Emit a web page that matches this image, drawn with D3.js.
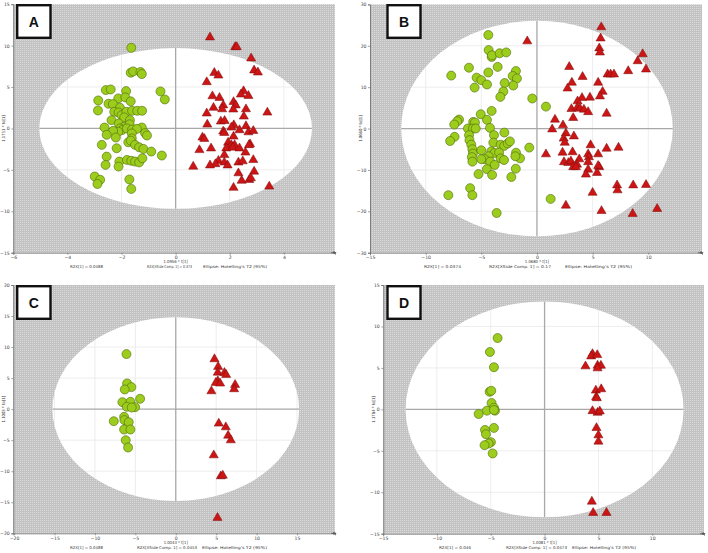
<!DOCTYPE html>
<html><head><meta charset="utf-8">
<script src="https://cdn.jsdelivr.net/npm/d3@7/dist/d3.min.js"></script>
<style>body{margin:0;background:#fff} svg{display:block}</style>
</head><body>
<svg id="c" width="708" height="553"></svg>
<script>
// ---------- DATA ----------
const aGreen = [[-1.64,9.74],[-1.66,6.73],[-1.57,6.89],[-1.30,6.81],[-1.25,6.57],[-2.58,4.63],[-2.40,4.71],[-1.83,4.51],[-0.56,4.47],[-0.40,3.50],[-2.86,3.38],[-2.12,3.63],[-1.86,3.75],[-1.66,3.27],[-2.48,2.98],[-2.32,2.94],[-2.87,2.17],[-2.06,2.50],[-2.27,2.01],[-2.11,1.93],[-2.00,1.61],[-1.82,2.01],[-1.61,2.13],[-1.42,2.13],[-1.24,2.13],[-2.37,1.00],[-1.90,1.33],[-1.69,1.00],[-2.10,0.60],[-1.90,0.20],[-1.70,0.50],[-2.05,0.00],[-1.98,-0.20],[-2.12,-0.40],[-1.80,0.00],[-2.63,0.11],[-2.31,-0.29],[-1.61,-0.13],[-1.25,0.11],[-1.43,-0.05],[-2.55,-0.77],[-2.21,-1.09],[-1.62,-0.60],[-1.62,-1.20],[-1.13,-0.56],[-1.06,-0.85],[-2.73,-1.98],[-2.18,-2.39],[-1.75,-1.67],[-1.66,-1.47],[-1.50,-1.98],[-1.35,-2.27],[-1.19,-2.47],[-0.90,-2.79],[-0.51,-3.27],[-2.55,-3.40],[-2.59,-4.40],[-2.08,-4.00],[-2.11,-4.60],[-1.80,-3.80],[-1.64,-3.90],[-1.50,-4.00],[-1.35,-4.10],[-1.23,-3.60],[-2.99,-5.80],[-2.79,-6.20],[-2.89,-6.70],[-1.71,-6.16],[-1.64,-7.30]];
const aRed = [[1.27,11.0],[2.20,9.83],[2.26,9.83],[2.79,8.46],[2.90,7.01],[3.04,6.77],[1.43,6.72],[1.58,6.40],[1.15,5.60],[2.51,4.51],[2.41,4.11],[2.69,3.94],[1.36,3.90],[1.62,3.70],[2.14,3.20],[1.76,2.80],[2.22,2.80],[1.40,2.50],[1.72,2.33],[2.13,2.30],[2.60,2.33],[3.39,1.93],[1.15,1.82],[2.52,1.45],[1.17,0.48],[1.67,0.85],[1.81,0.92],[2.15,0.40],[2.06,0.12],[2.60,0.28],[1.76,-0.36],[1.80,-0.53],[2.69,-0.45],[2.87,-0.29],[2.36,-0.20],[2.14,-0.97],[0.99,-1.09],[1.06,-1.25],[1.94,-1.70],[2.06,-2.00],[2.18,-2.00],[1.87,-2.40],[2.11,-2.30],[2.75,-1.90],[2.71,-2.00],[2.36,-2.40],[1.31,-2.40],[0.88,-2.60],[2.58,-2.90],[1.80,-3.20],[1.58,-3.90],[1.47,-4.30],[1.80,-4.10],[1.92,-4.45],[2.32,-4.10],[2.48,-3.95],[2.87,-3.80],[1.27,-4.45],[0.65,-4.60],[2.32,-5.40],[2.90,-5.20],[2.44,-6.30],[2.72,-6.20],[2.78,-6.00],[2.14,-7.15],[3.46,-7.00]];

const bGreen = [[-4.37,22.6],[-4.34,18.96],[-4.07,17.3],[-4.04,17.7],[-3.35,18.2],[-2.76,18.4],[-6.11,14.7],[-4.37,13.55],[-3.53,14.9],[-1.89,13.9],[-2.18,12.7],[-1.80,12.1],[-2.13,10.4],[-7.70,12.8],[-5.42,12.3],[-5.00,11.7],[-4.49,10.65],[-5.60,9.9],[-2.90,11.0],[-3.02,8.95],[-3.29,7.65],[-0.42,7.26],[0.81,5.3],[-5.05,3.46],[-4.07,4.26],[-7.00,2.17],[-7.16,1.77],[-7.43,0.97],[-4.49,2.1],[-5.73,1.6],[-5.57,1.45],[-6.20,0.0],[-5.75,0.0],[-5.50,0.0],[-4.22,0.16],[-7.40,-2.0],[-7.80,-3.0],[-6.10,-1.6],[-6.06,-2.8],[-5.90,-3.9],[-5.80,-5.0],[-3.86,-1.6],[-2.93,-0.97],[-3.92,-3.4],[-3.26,-3.9],[-2.94,-4.2],[-2.63,-3.6],[-2.43,-3.1],[-0.69,-4.6],[-5.75,-6.05],[-5.85,-6.9],[-5.00,-5.25],[-4.10,-5.5],[-3.80,-5.9],[-3.40,-5.8],[-4.34,-6.7],[-4.70,-7.4],[-5.00,-7.4],[-1.88,-5.85],[-1.52,-7.2],[-1.94,-6.7],[-3.26,-7.2],[-2.96,-7.6],[-5.80,-8.0],[-4.20,-8.0],[-3.80,-8.8],[-4.50,-9.8],[-1.90,-9.7],[-5.25,-11.0],[-4.03,-11.2],[-2.30,-11.7],[-6.00,-14.4],[-5.80,-16.1],[-7.96,-16.1],[1.23,-17.0],[-3.62,-20.4]];
const bRed = [[-0.87,21.1],[5.78,24.5],[5.72,21.8],[5.60,19.4],[5.66,18.4],[9.50,18.0],[9.05,16.3],[9.80,14.3],[2.90,14.9],[8.20,13.9],[6.35,13.1],[6.62,13.1],[6.92,13.1],[4.10,12.5],[3.14,11.1],[5.50,11.1],[2.75,9.7],[5.90,8.9],[5.66,7.8],[4.76,7.5],[4.05,7.4],[3.65,6.6],[3.10,4.75],[3.63,5.1],[3.87,4.84],[4.22,4.6],[4.60,4.0],[6.26,3.62],[3.26,2.57],[1.62,2.17],[2.34,0.8],[1.37,-0.17],[2.60,-1.14],[3.32,-1.87],[2.40,-2.4],[2.50,-3.4],[4.82,-4.0],[6.26,-4.84],[7.33,-4.6],[0.81,-6.2],[2.30,-5.8],[3.20,-5.7],[4.60,-6.2],[4.67,-6.9],[5.50,-6.2],[2.43,-8.1],[2.82,-8.3],[3.05,-7.9],[3.80,-7.4],[3.60,-8.7],[3.26,-9.3],[3.50,-9.3],[4.60,-8.1],[5.60,-9.3],[5.50,-9.0],[4.60,-9.9],[4.40,-11.1],[5.40,-10.7],[7.20,-13.7],[7.24,-14.9],[8.65,-13.7],[9.80,-13.6],[5.00,-15.5],[2.60,-18.6],[5.80,-19.9],[8.60,-20.6],[10.80,-19.4]];

const cGreen = [[-6.10,8.87],[-6.02,4.14],[-5.49,3.55],[-6.31,3.17],[-4.41,1.67],[-6.60,1.13],[-5.61,1.18],[-6.06,0.38],[-5.03,0.32],[-5.45,0.27],[-7.67,-1.94],[-6.39,-1.24],[-6.35,-1.77],[-5.82,-2.10],[-6.39,-3.28],[-5.61,-3.28],[-6.19,-5.00],[-5.90,-6.18]];
const cRed = [[4.79,8.06],[5.24,6.83],[5.20,5.90],[6.02,5.86],[6.23,5.54],[7.34,3.92],[7.22,3.23],[5.20,4.52],[4.95,4.25],[5.49,4.14],[4.41,2.90],[5.32,-2.31],[6.19,-2.90],[6.48,-4.25],[6.81,-5.00],[4.70,-7.42],[5.57,-10.8],[5.82,-10.7],[5.16,-17.5]];

const dGreen = [[-4.36,8.6],[-5.07,6.92],[-4.70,5.08],[-5.10,2.12],[-4.95,2.24],[-4.92,0.76],[-4.70,0.2],[-5.35,-0.16],[-4.60,-0.16],[-4.70,-0.08],[-6.12,-0.56],[-4.70,-2.24],[-5.53,-2.48],[-5.44,-3.0],[-4.98,-3.96],[-5.19,-4.12],[-5.57,-4.32],[-4.82,-5.32]];
const dRed = [[4.45,6.68],[4.33,6.4],[4.89,6.56],[3.80,5.2],[4.92,5.28],[5.23,5.28],[4.92,4.96],[4.76,2.28],[5.26,2.44],[4.79,1.48],[4.85,1.36],[4.45,-0.2],[4.92,-0.4],[5.13,-0.24],[4.82,-2.24],[5.00,-3.12],[5.00,-3.88],[4.39,-11.12],[4.51,-12.48],[5.75,-12.48]];

// Hotelling T2 ellipse semi-axes [x, y]
const ellA = [5.04, 9.7], ellB = [12.2, 26.05], ellC = [15.26, 14.8], ellD = [12.9, 13.02];

// tick labels
const xTicksA = [-6,-4,-2,0,2,4], yTicksA = [-15,-10,-5,0,5,10,15];
const xTicksB = [-15,-10,-5,0,5,10], yTicksB = [-30,-20,-10,0,10,20,30];
const xTicksC = [-20,-15,-10,-5,0,5,10,15], yTicksC = [-20,-15,-10,-5,0,5,10,15,20];
const xTicksD = [-15,-10,-5,0,5,10], yTicksD = [-15,-10,-5,0,5,10,15];

const xLabels = ["1.0956 * t[1]","1.0680 * t[1]","1.0043 * t[1]","1.0081 * t[1]"];
const yLabels = ["1.1751 * to[1]","1.0660 * to[1]","1.1003 * to[1]","1.1784 * to[1]"];
const footA = ["R2X[1] = 0.0488","R2X[XSide Comp. 1] = 0.373","Ellipse: Hotelling's T2 (95%)"];
const footB = ["R2X[1] = 0.0374","R2X[XSide Comp. 1] = 0.17","Ellipse: Hotelling's T2 (95%)"];
const footC = ["R2X[1] = 0.0488","R2X[XSide Comp. 1] = 0.0453","Ellipse: Hotelling's T2 (95%)"];
const footD = ["R2X[1] = 0.046","R2X[XSide Comp. 1] = 0.0473","Ellipse: Hotelling's T2 (95%)"];
const panelNames = ["A","B","C","D"];

// ---------- LAYOUT ----------
const layout = [
  {plot:[13.3,4.2,335,252.7], xDom:[-6,5.89], yDom:[-15,15], box:[16,4,35.7,35], foot:[[70,33],[147,45],[203,64]], footY:268.3},
  {plot:[370,4.4,702,252.7], xDom:[-15,14.83], yDom:[-30,30], box:[386.3,4,35.4,35], foot:[[424,37],[489,62],[565,67]], footY:268.3},
  {plot:[13.3,285,335,533.3], xDom:[-20.1,19.7], yDom:[-20,20], box:[16,285,35.7,35], foot:[[70,33],[137,60],[202,65]], footY:549.3},
  {plot:[383.3,285,704,533.7], xDom:[-14.97,14.8], yDom:[-15,15], box:[386.3,285,35.4,35], foot:[[439,32],[506,61],[572,64]], footY:549.3}
];
const datasets = [
  {g:aGreen,r:aRed,e:ellA,xt:xTicksA,yt:yTicksA,f:footA},
  {g:bGreen,r:bRed,e:ellB,xt:xTicksB,yt:yTicksB,f:footB},
  {g:cGreen,r:cRed,e:ellC,xt:xTicksC,yt:yTicksC,f:footC},
  {g:dGreen,r:dRed,e:ellD,xt:xTicksD,yt:yTicksD,f:footD}
];

const svg = d3.select("#c");
const defs = svg.append("defs");
const pat = defs.append("pattern").attr("id","dots").attr("width",2).attr("height",2).attr("patternUnits","userSpaceOnUse");
pat.append("rect").attr("width",2).attr("height",2).attr("fill","#c2c2c2");
pat.append("rect").attr("width",1).attr("height",1).attr("fill","#dcdcdc");
defs.append("marker").attr("id","arr").attr("viewBox","0 0 6 6").attr("refX",1).attr("refY",3)
  .attr("markerWidth",4).attr("markerHeight",4).attr("orient","auto")
  .append("path").attr("d","M0,0L6,3L0,6Z").attr("fill","#555");

const tri = d3.symbol().type(d3.symbolTriangle).size(36);
const smallFont = "DejaVu Sans Condensed, DejaVu Sans, sans-serif";

layout.forEach((L,i)=>{
  const D = datasets[i];
  const [x0,y0,x1,y1] = L.plot;
  const x = d3.scaleLinear().domain(L.xDom).range([x0,x1]);
  const y = d3.scaleLinear().domain(L.yDom).range([y1,y0]);
  const g = svg.append("g");
  g.append("rect").attr("x",x0).attr("y",y0).attr("width",x1-x0).attr("height",y1-y0).attr("fill","url(#dots)");
  const cx = x(0), cy = y(0), rx = x(D.e[0])-x(0), ry = y(0)-y(D.e[1]);
  g.append("ellipse").attr("cx",cx).attr("cy",cy).attr("rx",rx).attr("ry",ry).attr("fill","#fff");
  const cid = "clip"+i;
  defs.append("clipPath").attr("id",cid).append("ellipse").attr("cx",cx).attr("cy",cy).attr("rx",rx).attr("ry",ry);
  const gg = g.append("g").attr("clip-path",`url(#${cid})`);
  D.xt.forEach(t=>{ if(t!==0) gg.append("line").attr("x1",x(t)).attr("x2",x(t)).attr("y1",y0).attr("y2",y1).attr("stroke","#e8e8e8").attr("stroke-width",0.8); });
  D.yt.forEach(t=>{ if(t!==0) gg.append("line").attr("y1",y(t)).attr("y2",y(t)).attr("x1",x0).attr("x2",x1).attr("stroke","#e8e8e8").attr("stroke-width",0.8); });
  gg.append("line").attr("x1",x(0)).attr("x2",x(0)).attr("y1",y0).attr("y2",y1).attr("stroke","#a8a8a8").attr("stroke-width",1.3);
  gg.append("line").attr("y1",y(0)).attr("y2",y(0)).attr("x1",x0).attr("x2",x1).attr("stroke","#a8a8a8").attr("stroke-width",1.3);

  // axes
  const ax = g.append("g").attr("transform",`translate(0,${y1})`)
    .call(d3.axisBottom(x).tickValues(D.xt).tickSize(2).tickPadding(1.5));
  const ay = g.append("g").attr("transform",`translate(${x0},0)`)
    .call(d3.axisLeft(y).tickValues(D.yt).tickSize(2).tickPadding(1.5));
  [ax,ay].forEach(a=>{
    a.select(".domain").attr("stroke","#666").attr("stroke-width",0.8);
    a.selectAll(".tick line").attr("stroke","#666").attr("stroke-width",0.6);
    a.selectAll(".tick text").attr("font-size",4.6).attr("font-family","DejaVu Sans, sans-serif").attr("fill","#444");
  });
  g.append("line").attr("x1",x1-4).attr("x2",x1-1).attr("y1",y1).attr("y2",y1).attr("stroke","#555").attr("stroke-width",0.8).attr("marker-end","url(#arr)");

  // labels
  g.append("text").attr("x",x(0)).attr("y",y1+10.3).attr("text-anchor","middle")
    .attr("font-size",4.2).attr("font-family",smallFont).attr("fill","#333").text(xLabels[i]);
  g.append("text").attr("transform",`translate(${x0-8.5},${y(0)}) rotate(-90)`).attr("text-anchor","middle")
    .attr("font-size",4.2).attr("font-family",smallFont).attr("fill","#333").text(yLabels[i]);
  D.f.forEach((t,k)=>{
    g.append("text").attr("x",L.foot[k][0]).attr("y",L.footY).attr("font-size",3.9)
      .attr("font-family",smallFont).attr("fill","#333")
      .attr("textLength",L.foot[k][1]).attr("lengthAdjust","spacingAndGlyphs").text(t);
  });

  // points
  g.append("g").selectAll("circle").data(D.g).join("circle")
    .attr("cx",d=>x(d[0])).attr("cy",d=>y(d[1])).attr("r",4.5)
    .attr("fill","#9ccc1c").attr("stroke","#4d6a0a").attr("stroke-width",0.6);
  g.append("g").selectAll("path").data(D.r).join("path")
    .attr("transform",d=>`translate(${x(d[0])},${y(d[1])})`).attr("d",tri)
    .attr("fill","#cc1515").attr("stroke","#7a0a0a").attr("stroke-width",0.5);

  // panel label box
  const [bx,by,bw,bh] = L.box;
  g.append("rect").attr("x",bx+1.2).attr("y",by+1.2).attr("width",bw-2.4).attr("height",bh-2.4)
    .attr("fill","#fff").attr("stroke","#111").attr("stroke-width",2.4);
  g.append("text").attr("x",bx+bw/2).attr("y",by+bh/2+5).attr("text-anchor","middle")
    .attr("font-size",14).attr("font-weight","bold").attr("font-family","Liberation Sans, Arial, sans-serif")
    .attr("fill","#111").text(panelNames[i]);
});
</script>
</body></html>
